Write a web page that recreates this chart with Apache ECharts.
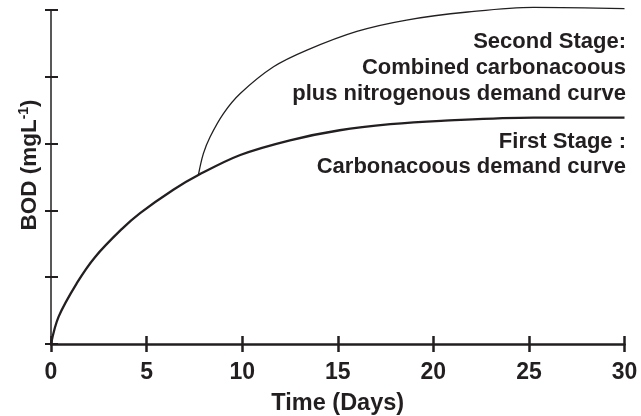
<!DOCTYPE html>
<html>
<head>
<meta charset="utf-8">
<script src="https://cdn.jsdelivr.net/npm/echarts@6/dist/echarts.min.js"></script>
<style>html,body{margin:0;padding:0;background:#fff}#c{width:641px;height:416px}</style>
</head>
<body>
<div id="c"></div>
<script>
var xTicks = [0, 5, 10, 15, 20, 25, 30];
var days1 = [0, 0.4, 1.35, 2.3, 3.7, 4.66, 6.4, 7.71, 9.9, 12.5, 15.1, 17.75, 20.4, 25.25, 30];
var stage1 = [0, 0.41, 0.91, 1.30, 1.72, 1.96, 2.31, 2.53, 2.83, 3.05, 3.20, 3.29, 3.34, 3.39, 3.39];
var days2 = [7.71, 7.97, 8.32, 9.02, 9.9, 11.64, 13.39, 16.0, 18.6, 21.8, 25.25, 30];
var stage2 = [2.53, 2.85, 3.10, 3.45, 3.75, 4.15, 4.40, 4.68, 4.85, 4.97, 5.04, 5.02];
var label2 = ['Second Stage:', 'Combined carbonacoous', 'plus nitrogenous demand curve'];
var label1 = ['First Stage :', 'Carbonacoous demand curve'];

var INK = '#231f20';
var FONT = '"Liberation Sans", Arial, sans-serif';

function pairs(xs, ys) { return xs.map(function (x, i) { return [x, ys[i]]; }); }

var chart = echarts.init(document.getElementById('c'), null, {renderer: 'canvas'});

var texts = [];
var y2 = [44, 70, 96];
label2.forEach(function (t, i) {
  texts.push({type: 'text', right: 15, top: y2[i] - 13, style: {text: t, fill: INK, font: 'bold 22px ' + FONT, textAlign: 'right'}});
});
var y1 = [144, 169];
label1.forEach(function (t, i) {
  texts.push({type: 'text', right: 15, top: y1[i] - 13, style: {text: t, fill: INK, font: 'bold 22px ' + FONT, textAlign: 'right'}});
});

chart.setOption({
  animation: false,
  backgroundColor: '#fff',
  grid: {left: 51, right: 16.5, top: 10, bottom: 72, containLabel: false, outerBoundsMode: 'none'},
  xAxis: [{
    type: 'value', min: xTicks[0], max: xTicks[xTicks.length - 1], interval: 5,
    position: 'bottom',
    axisLine: {show: true, lineStyle: {color: INK, width: 2.5}},
    axisTick: {show: true, inside: false, length: 8, lineStyle: {color: INK, width: 2.5}},
    axisLabel: {show: true, margin: 17, color: INK, fontSize: 23, fontWeight: 'bold', fontFamily: FONT},
    splitLine: {show: false},
    name: 'Time (Days)', nameLocation: 'middle', nameGap: 48,
    nameTextStyle: {color: INK, fontSize: 23.5, fontWeight: 'bold', fontFamily: FONT}
  }, {
    type: 'value', min: xTicks[0], max: xTicks[xTicks.length - 1], interval: 5,
    position: 'bottom',
    axisLine: {show: false},
    axisTick: {show: true, inside: true, length: 8, lineStyle: {color: INK, width: 2.5}},
    axisLabel: {show: false}, splitLine: {show: false}
  }],
  yAxis: [{
    type: 'value', min: 0, max: 5, interval: 1,
    position: 'left',
    axisLine: {show: true, lineStyle: {color: INK, width: 1.5}},
    axisTick: {show: true, inside: true, length: 7, lineStyle: {color: INK, width: 2}},
    axisLabel: {show: false},
    splitLine: {show: false},
    name: 'BOD (mgL{sup|-1})', nameLocation: 'middle', nameGap: 8, nameRotate: 90,
    nameTextStyle: {
      color: INK, fontSize: 22.5, fontWeight: 'bold', fontFamily: FONT, padding: [0, 0, 0, 24],
      rich: {sup: {color: INK, fontSize: 14, fontWeight: 'bold', fontFamily: FONT, padding: [0, 0, 12, 0]}}
    }
  }, {
    type: 'value', min: 0, max: 5, interval: 1,
    position: 'left',
    axisLine: {show: false},
    axisTick: {show: true, inside: false, length: 6, lineStyle: {color: INK, width: 2}},
    axisLabel: {show: false}, splitLine: {show: false}
  }],
  series: [{
    type: 'line', xAxisIndex: 0, yAxisIndex: 0, data: pairs(days1, stage1),
    smooth: 0.35, showSymbol: false, clip: false,
    lineStyle: {color: INK, width: 2.3}
  }, {
    type: 'line', xAxisIndex: 0, yAxisIndex: 0, data: pairs(days2, stage2),
    smooth: 0.35, showSymbol: false, clip: false,
    lineStyle: {color: INK, width: 1.3}
  }],
  graphic: texts
});
</script>
</body>
</html>
